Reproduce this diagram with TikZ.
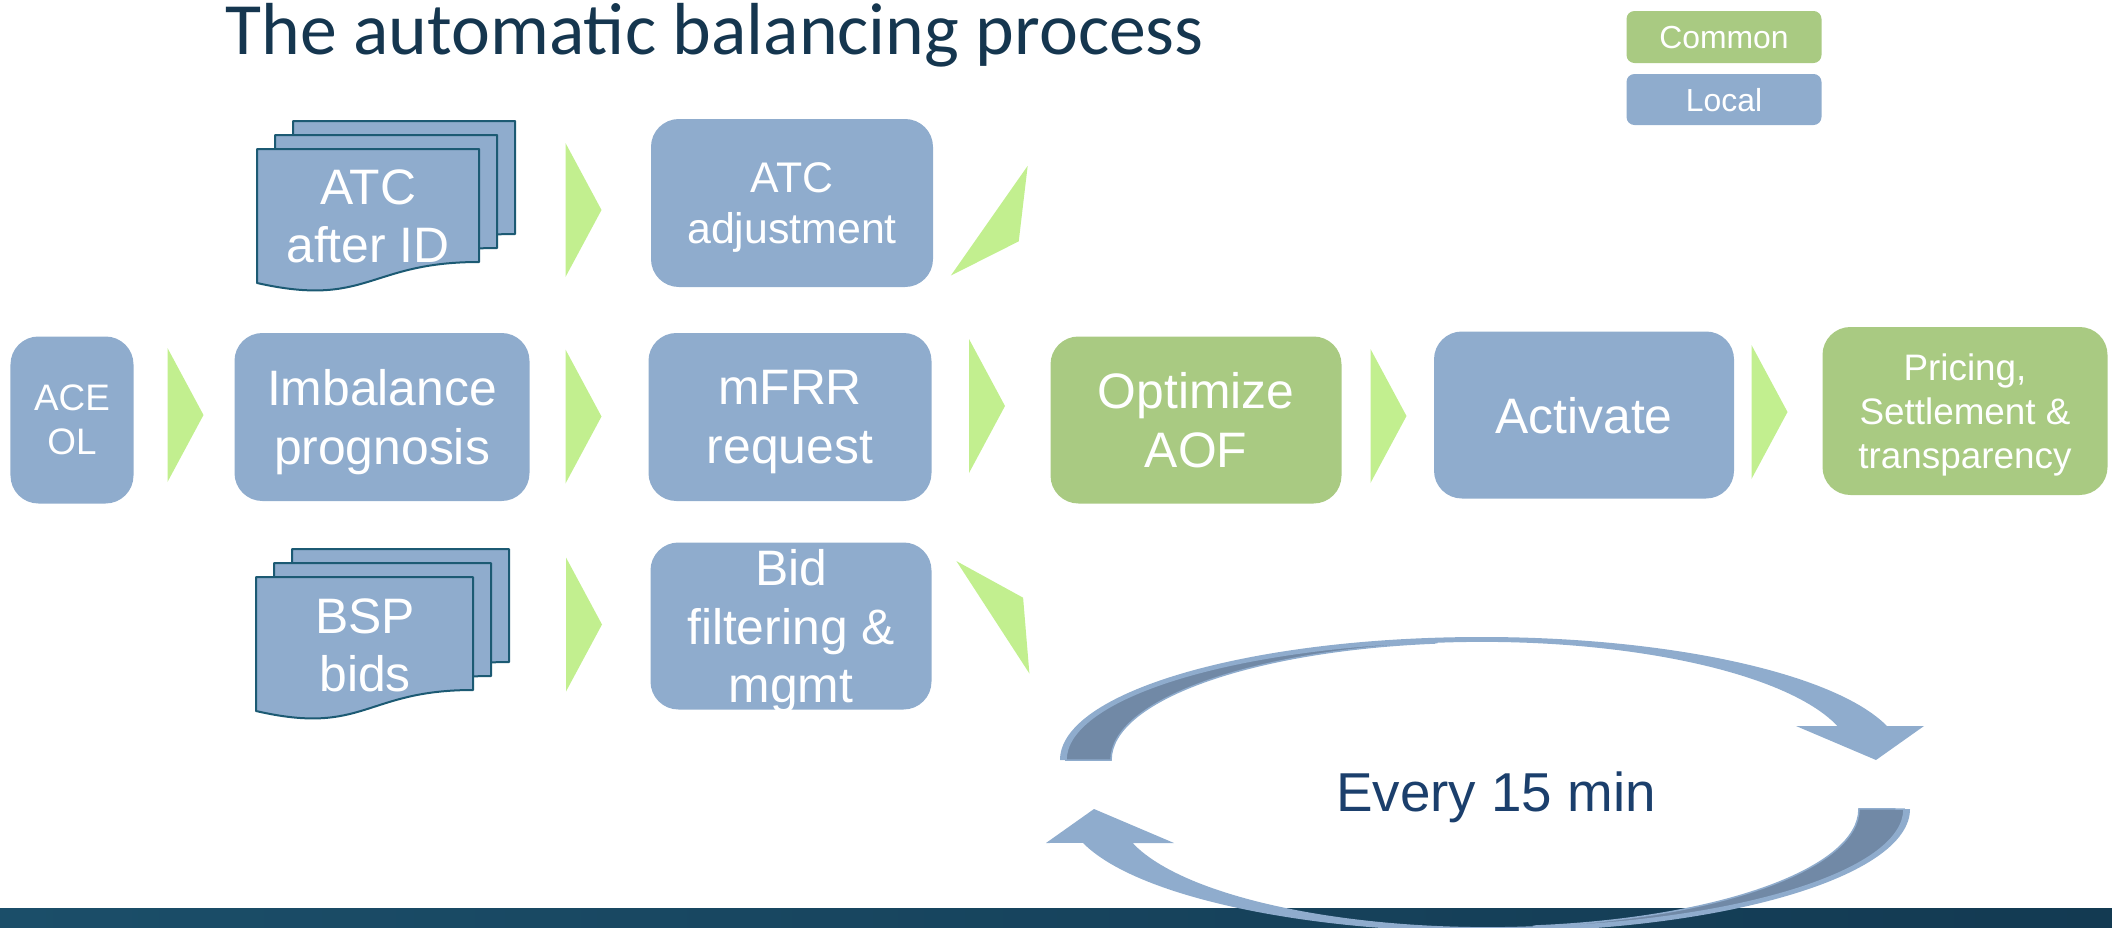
\documentclass[tikz,border=0pt]{standalone}
\usepackage{fontspec}
\setmainfont{Liberation Sans}
\newfontfamily\titlefont{Carlito}
\usepackage{tikz}
\usetikzlibrary{calc}
\definecolor{localblue}{HTML}{8FACCD}
\definecolor{commongreen}{HTML}{A9CA82}
\definecolor{chevgreen}{HTML}{C2EF8F}
\definecolor{docline}{HTML}{1C5A73}
\definecolor{titlenavy}{HTML}{15364F}
\definecolor{cyclenavy}{HTML}{1B3F6C}
\definecolor{arcdark}{HTML}{7189A6}
\definecolor{barleft}{HTML}{1B4E69}
\definecolor{barright}{HTML}{133A52}
\newcommand{\boxfont}{\fontsize{50}{59}\selectfont}
\newcommand{\midfont}{\fontsize{37}{44}\selectfont}
\newcommand{\adjfont}{\fontsize{43}{52}\selectfont}
\newcommand{\legfont}{\fontsize{32}{38}\selectfont}
\newcommand{\cyclefont}{\fontsize{55}{66}\selectfont}
\tikzstyle{localB}=[rectangle, rounded corners=28pt, fill=localblue, text=white, align=center, inner sep=0pt, text depth=0pt]
\tikzstyle{commonB}=[localB, fill=commongreen]
\tikzstyle{docpage}=[fill=localblue, draw=docline, line width=2bp, line join=round]
\tikzstyle{doctext}=[text=white, align=center, inner sep=0pt, text depth=0pt, font=\boxfont]
\tikzset{chevron/.pic={\fill[chevgreen] (-18,-67) -- (18,0) -- (-18,67) -- cycle;}}

\begin{document}
\begin{tikzpicture}[x=1bp, y=-1bp]
        \useasboundingbox (0,0) rectangle (2112,928);
        \fill[left color=barleft, right color=barright] (0,908) rectangle (2112,928);
        \node(title) [anchor=base west, text=titlenavy, font=\titlefont\fontsize{74}{80}\selectfont] at (222,54) {The automatic balancing process};
        % legend
        \node(common) [commonB, rounded corners=8pt, minimum width=195bp, minimum height=52bp, font=\legfont] at (1724,37) {Common};
        \node(local) [localB, rounded corners=8pt, minimum width=195bp, minimum height=51bp, font=\legfont] at (1724,99.5) {Local};
        % document stacks
        \foreach \x/\y/\w in {257/149/222, 256/577/217}
          \foreach \k in {2,1,0}
            \draw[docpage] (\x+18*\k, \y-14*\k) -- ++(\w,0) -- ++(0,113) .. controls +(-\w/2,0) and +(\w/2,25) .. ++(-\w,21) -- cycle;
        \node(atcdoc) [doctext] at (368,216) {ATC\\after ID};
        \node(bspdoc) [doctext] at (365,645) {BSP\\bids};
        % process boxes
        \node(ace) [localB, minimum width=123bp, minimum height=167bp, font=\midfont] at (72,420) {ACE\\OL};
        \node(imb) [localB, minimum width=295bp, minimum height=168bp, font=\boxfont] at (382,417) {Imbalance\\prognosis};
        \node(mfrr) [localB, minimum width=283bp, minimum height=168bp, font=\boxfont] at (790,417) {mFRR\\request};
        \node(atcadj) [localB, minimum width=282bp, minimum height=168bp, font=\adjfont] at (792,203) {ATC\\adjustment};
        \node(bidf) [localB, minimum width=281bp, minimum height=167bp, font=\boxfont] at (791,626) {Bid\\filtering \&\\mgmt};
        \node(aof) [commonB, minimum width=291bp, minimum height=167bp, font=\boxfont] at (1196,420) {Optimize\\AOF};
        \node(act) [localB, minimum width=300bp, minimum height=167bp, font=\boxfont] at (1584,415) {Activate};
        \node(price) [commonB, minimum width=285bp, minimum height=168bp, font=\midfont] at (1965,411) {Pricing,\\Settlement \&\\transparency};
        % chevrons
        \foreach \cx/\cy in {185.5/415, 583.5/416.5, 987/406, 1388.5/416, 1769.5/412, 583.5/210, 584/624.5}
          \pic at (\cx,\cy) {chevron};
        \pic[rotate=-35] at (1004,231) {chevron};
        \pic[rotate=33] at (1008,607.5) {chevron};
        % 15 min cycle
        \foreach \r in {0,180}{
          \begin{scope}[rotate around={\r:(1485,784.5)}]
            \fill[localblue] (1060,760) arc[start angle=180, end angle=344, x radius=421.7, y radius=123] -- (1924,726) -- (1876,760) -- (1796,726) -- (1837.4,726) arc[start angle=343.3, end angle=180, x radius=371, y radius=118] -- cycle;
            \filldraw[fill=arcdark, draw=localblue, line width=1.5bp] (1066,760) arc[start angle=180, end angle=262, x radius=415.7, y radius=119] -- (1430.4,643.2) arc[start angle=262, end angle=180, x radius=371, y radius=118] -- cycle;
          \end{scope}
        }
        \node(every) [text=cyclenavy, font=\cyclefont, inner sep=0pt, text depth=0pt] at (1496,791.5) {Every 15 min};
\end{tikzpicture}
\end{document}
